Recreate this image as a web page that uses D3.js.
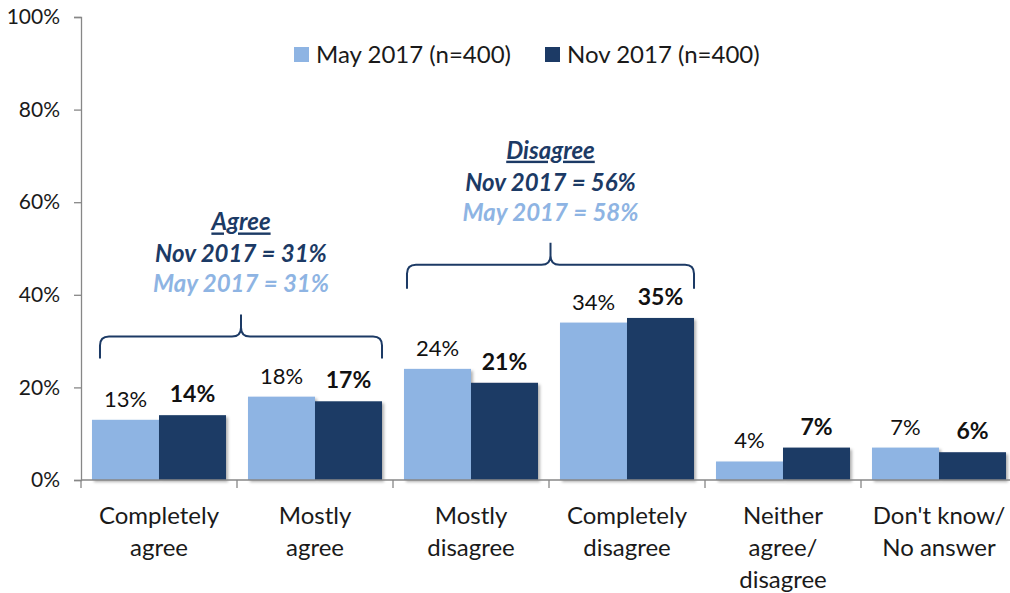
<!DOCTYPE html>
<html>
<head>
<meta charset="utf-8">
<script src="https://cdn.jsdelivr.net/npm/d3@7"></script>
<style>
  html, body { margin: 0; padding: 0; background: #fff; }
  svg { display: block; font-family: Lato, "Open Sans", sans-serif; }
</style>
</head>
<body>
<svg id="chart" width="1010" height="593"></svg>
<script>
const categories = [
  ["Completely", "agree"],
  ["Mostly", "agree"],
  ["Mostly", "disagree"],
  ["Completely", "disagree"],
  ["Neither", "agree/", "disagree"],
  ["Don't know/", "No answer"]
];
const seriesNames = ["May 2017 (n=400)", "Nov 2017 (n=400)"];
const may2017 = [13, 18, 24, 34, 4, 7];
const nov2017 = [14, 17, 21, 35, 7, 6];
const yTicks = [0, 20, 40, 60, 80, 100];
const groupTitles = ["Agree", "Disagree"];
const groupNov = ["Nov 2017 = 31%", "Nov 2017 = 56%"];
const groupMay = ["May 2017 = 31%", "May 2017 = 58%"];

const colors = ["#8EB4E3", "#1C3A65"];
const svg = d3.select("#chart");

const defs = svg.append("defs");
const f = defs.append("filter").attr("id", "shadow").attr("x", "-10%").attr("y", "-10%").attr("width", "130%").attr("height", "130%");
f.append("feDropShadow").attr("dx", 2).attr("dy", 2).attr("stdDeviation", 1.5)
  .attr("flood-color", "#000").attr("flood-opacity", 0.3);

const x = d3.scaleBand().domain(d3.range(categories.length)).range([81, 1017]).paddingInner(0).paddingOuter(0);
const x1 = d3.scaleBand().domain([0, 1]).range([0, x.bandwidth()]).paddingOuter(0.164).paddingInner(0);
const y = d3.scaleLinear().domain([0, 100]).range([480, 17]);

// Y axis
const yAxis = svg.append("g").attr("transform", "translate(81,0)")
  .call(d3.axisLeft(y).tickValues(yTicks).tickFormat(d => d + "%").tickSize(7).tickPadding(14));
yAxis.select(".domain").attr("stroke", "#878787").attr("stroke-width", 1.3);
yAxis.selectAll(".tick line").attr("stroke", "#878787").attr("stroke-width", 1.3);
yAxis.selectAll(".tick text").attr("font-size", 21).attr("fill", "#1a1a1a").attr("font-family", "Lato, sans-serif");

// Bars
const seriesData = [may2017, nov2017];
seriesData.forEach((vals, s) => {
  svg.append("g").selectAll("rect").data(vals).join("rect")
    .attr("x", (d, i) => x(i) + x1(s))
    .attr("y", d => y(d))
    .attr("width", x1.bandwidth())
    .attr("height", d => y(0) - y(d))
    .attr("fill", colors[s])
    .attr("filter", "url(#shadow)");
});

// X axis
const xAxisG = svg.append("g").attr("transform", "translate(0,480)");
xAxisG.append("line").attr("x1", 81).attr("x2", 1010).attr("y1", 0).attr("y2", 0)
  .attr("stroke", "#878787").attr("stroke-width", 1.3);
xAxisG.selectAll("line.sep").data(d3.range(categories.length + 1)).join("line").attr("class", "sep")
  .attr("x1", i => i < categories.length ? x(i) : 1017).attr("x2", i => i < categories.length ? x(i) : 1017)
  .attr("y1", 0).attr("y2", 8).attr("stroke", "#878787").attr("stroke-width", 1.3);

categories.forEach((lines, i) => {
  const t = svg.append("text").attr("text-anchor", "middle").attr("font-size", 24).attr("fill", "#1a1a1a");
  lines.forEach((ln, k) => {
    t.append("tspan").attr("x", x(i) + x.bandwidth() / 2).attr("y", 524 + k * 32).text(ln);
  });
});

// Value labels
seriesData.forEach((vals, s) => {
  svg.append("g").selectAll("text").data(vals).join("text")
    .attr("x", (d, i) => x(i) + x1(s) + x1.bandwidth() / 2)
    .attr("y", d => y(d) - 13)
    .attr("text-anchor", "middle")
    .attr("font-size", s === 1 ? 23 : 22)
    .attr("font-weight", s === 1 ? "bold" : "normal")
    .attr("fill", "#111")
    .text(d => d + "%");
});

// Legend
const legend = svg.append("g");
const legendX = [294, 545];
seriesNames.forEach((n, s) => {
  legend.append("rect").attr("x", legendX[s]).attr("y", 47).attr("width", 15).attr("height", 15).attr("fill", colors[s]);
  legend.append("text").attr("x", legendX[s] + 22).attr("y", 63).attr("font-size", 24).attr("fill", "#1a1a1a").text(n);
});

// Braces + group annotations
function bracePath(xa, xb, yTop, yEnd, yPeak) {
  const r = 9, xm = (xa + xb) / 2;
  return `M${xa},${yEnd} L${xa},${yTop + r} Q${xa},${yTop} ${xa + r},${yTop} L${xm - r},${yTop} Q${xm},${yTop} ${xm},${yTop - r} L${xm},${yPeak}` +
         ` M${xm},${yPeak} L${xm},${yTop - r} Q${xm},${yTop} ${xm + r},${yTop} L${xb - r},${yTop} Q${xb},${yTop} ${xb},${yTop + r} L${xb},${yEnd}`;
}
const groups = [
  { from: 0, to: 1, level: 31, drop: 22, peak: 22 },
  { from: 2, to: 3, level: 46.5, drop: 24, peak: 22 }
];
groups.forEach((g, gi) => {
  const xa = x(g.from) + x1(0) + (gi === 0 ? 8 : 3);
  const xb = x(g.to) + x1(1) + x1.bandwidth();
  const yTop = y(g.level);
  svg.append("path").attr("d", bracePath(xa, xb, yTop, yTop + g.drop, yTop - g.peak))
    .attr("fill", "none").attr("stroke", colors[1]).attr("stroke-width", 2);
  const xm = (xa + xb) / 2;
  const base = yTop - g.peak - 22;
  const common = t => t.attr("x", xm).attr("text-anchor", "middle").attr("font-size", 24)
    .attr("font-weight", "bold").attr("font-style", "italic");
  svg.append("text").call(common).attr("y", base - 62).attr("fill", colors[1])
    .attr("text-decoration", "underline").text(groupTitles[gi]);
  svg.append("text").call(common).attr("y", base - 30).attr("fill", colors[1]).text(groupNov[gi]);
  svg.append("text").call(common).attr("y", base).attr("fill", colors[0]).text(groupMay[gi]);
});
</script>
</body>
</html>
